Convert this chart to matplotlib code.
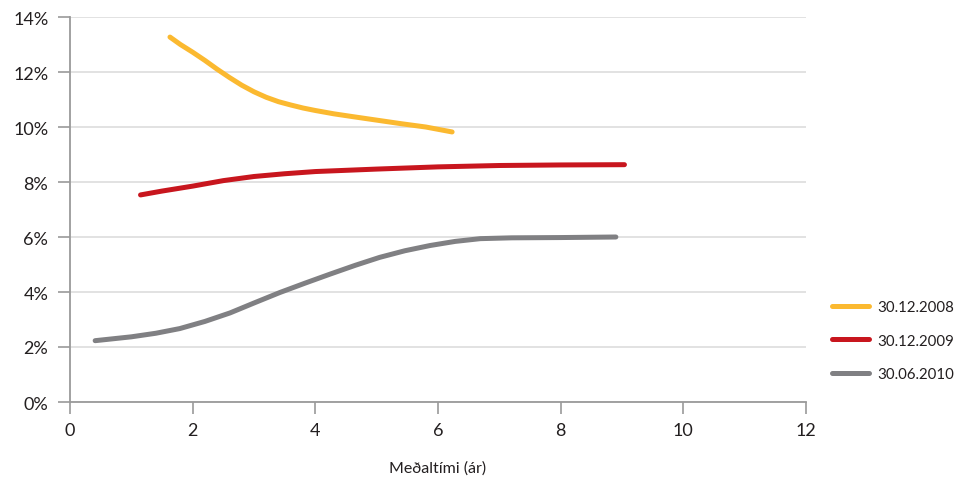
import matplotlib
matplotlib.use("Agg")
import matplotlib.pyplot as plt
from matplotlib.ticker import FuncFormatter

plt.rcParams['font.family'] = ['Lato', 'DejaVu Sans']

# Yield curves by average maturity (years) -> yield (%)
x_2008 = [1.63, 1.8, 2.0, 2.2, 2.4, 2.6, 2.8, 3.0, 3.2, 3.4, 3.6, 3.8, 4.0, 4.3, 4.6, 5.0, 5.4, 5.8, 6.23]
y_2008 = [13.27, 13.0, 12.72, 12.42, 12.1, 11.8, 11.52, 11.28, 11.08, 10.92, 10.8, 10.69, 10.6,
          10.48, 10.38, 10.25, 10.12, 10.0, 9.82]

x_2009 = [1.15, 1.5, 2.0, 2.5, 3.0, 3.5, 4.0, 5.0, 6.0, 7.0, 8.0, 9.04]
y_2009 = [7.53, 7.67, 7.85, 8.05, 8.2, 8.3, 8.38, 8.47, 8.55, 8.6, 8.62, 8.63]

x_2010 = [0.41, 1.0, 1.4, 1.79, 2.2, 2.61, 3.0, 3.42, 3.83, 4.24, 4.65, 5.05, 5.46, 5.87,
          6.28, 6.69, 7.2, 8.0, 8.9]
y_2010 = [2.23, 2.37, 2.5, 2.67, 2.93, 3.24, 3.6, 3.98, 4.32, 4.65, 4.97, 5.26, 5.5, 5.69,
          5.84, 5.94, 5.97, 5.98, 6.0]

labels = ["30.12.2008", "30.12.2009", "30.06.2010"]
colors = ["#FBB930", "#C8161E", "#808083"]
x_ticks = [0, 2, 4, 6, 8, 10, 12]
y_ticks = [0, 2, 4, 6, 8, 10, 12, 14]

fig = plt.figure(figsize=(9.59, 4.85), dpi=100)
ax = fig.add_axes([70 / 959, 1 - 403 / 485, (806 - 70) / 959, (403 - 18) / 485])

for xs, ys, lab, col in zip([x_2008, x_2009, x_2010], [y_2008, y_2009, y_2010], labels, colors):
    ax.plot(xs, ys, color=col, lw=3.6, solid_capstyle='round', solid_joinstyle='round',
            label=lab, zorder=3)

ax.set_xlim(0, 12)
ax.set_ylim(0, 14)
ax.set_xticks(x_ticks)
ax.set_yticks(y_ticks)
ax.yaxis.set_major_formatter(FuncFormatter(lambda v, p: f"{v:.0f}%"))

ax.grid(axis='y', color='#DDDDDD', lw=1.2, zorder=0)
ax.set_axisbelow(True)
for s in ['top', 'right']:
    ax.spines[s].set_visible(False)
for s in ['left', 'bottom']:
    ax.spines[s].set_color('#9A9A9A')
    ax.spines[s].set_linewidth(1.3)

ax.tick_params(axis='both', direction='out', length=8.6, width=1.2, color='#9A9A9A',
               labelsize=13, labelcolor='#231F20')
ax.tick_params(axis='x', pad=6)
ax.tick_params(axis='y', pad=7)

ax.set_xlabel("Meðaltími (ár)", fontsize=11.5, color='#231F20', labelpad=16)

leg = ax.legend(loc='upper left', bbox_to_anchor=(1.017, 0.30), frameon=False,
                fontsize=10.8, handlelength=2.45, handletextpad=0.55, labelspacing=1.3,
                labelcolor='#231F20')

fig.savefig("out.png", dpi=100)
